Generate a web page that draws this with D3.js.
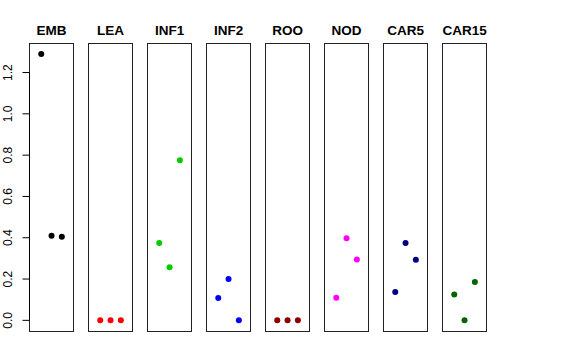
<!DOCTYPE html>
<html><head><meta charset="utf-8">
<script src="https://cdn.jsdelivr.net/npm/d3@7"></script>
<style>body{margin:0;background:#fff}svg{display:block}text{font-family:"Liberation Sans",Arial,sans-serif}</style>
</head><body>
<svg id="c" width="576" height="360"></svg>
<script>
const categories = ["EMB","LEA","INF1","INF2","ROO","NOD","CAR5","CAR15"];
const colors = ["#000000","#FF0000","#00CD00","#0000FF","#8B0000","#FF00FF","#000080","#006400"];
const positions = [1,2,3];
const values = [
  [1.29, 0.41, 0.405],
  [0, 0, 0],
  [0.375, 0.257, 0.775],
  [0.108, 0.2, 0.0],
  [0, 0, 0],
  [0.110, 0.398, 0.295],
  [0.137, 0.375, 0.293],
  [0.125, 0.0, 0.186]
];
const yTicks = [0, 0.2, 0.4, 0.6, 0.8, 1.0, 1.2];

const svg = d3.select("#c");
const band = d3.scaleBand().domain(categories).range([29.3, 486.8]).paddingInner(0.246).paddingOuter(0);
const y = d3.scaleLinear().domain([-0.0516, 1.3416]).range([331, 43.3]);

categories.forEach((cat, i) => {
  const left = band(cat);
  const x = d3.scaleLinear().domain([-0.16, 4.16]).range([left, left + band.bandwidth()]);
  const g = svg.append("g");
  g.append("rect")
    .attr("x", Math.round(left) + 0.5).attr("y", Math.round(y.range()[1]) + 0.5)
    .attr("width", Math.round(band.bandwidth())).attr("height", Math.round(y.range()[0] - y.range()[1]))
    .attr("fill", "none").attr("stroke", "#222").attr("stroke-width", 1);
  g.append("text")
    .attr("x", left + band.bandwidth() / 2).attr("y", 34.5)
    .attr("text-anchor", "middle").attr("font-weight", "bold").attr("font-size", 13.5)
    .text(cat);
  g.selectAll("circle").data(values[i]).join("circle")
    .attr("cx", (d, j) => x(positions[j]))
    .attr("cy", d => y(d))
    .attr("r", 3)
    .attr("fill", colors[i]);
});

// y axis
const ax = svg.append("g").attr("transform", `translate(${Math.round(band(categories[0])) + 0.5},0)`);
ax.append("line").attr("x1", 0).attr("x2", 0).attr("y1", y(0)).attr("y2", y(1.2)).attr("stroke", "#000");
ax.selectAll("line.t").data(yTicks).join("line").attr("class", "t")
  .attr("x1", -7).attr("x2", 0).attr("y1", d => y(d)).attr("y2", d => y(d)).attr("stroke", "#000");
ax.selectAll("text").data(yTicks).join("text")
  .attr("transform", d => `translate(-17.3,${y(d)}) rotate(-90)`)
  .attr("text-anchor", "middle").attr("font-size", 12)
  .text(d => d3.format(".1f")(d));
</script>
</body></html>
